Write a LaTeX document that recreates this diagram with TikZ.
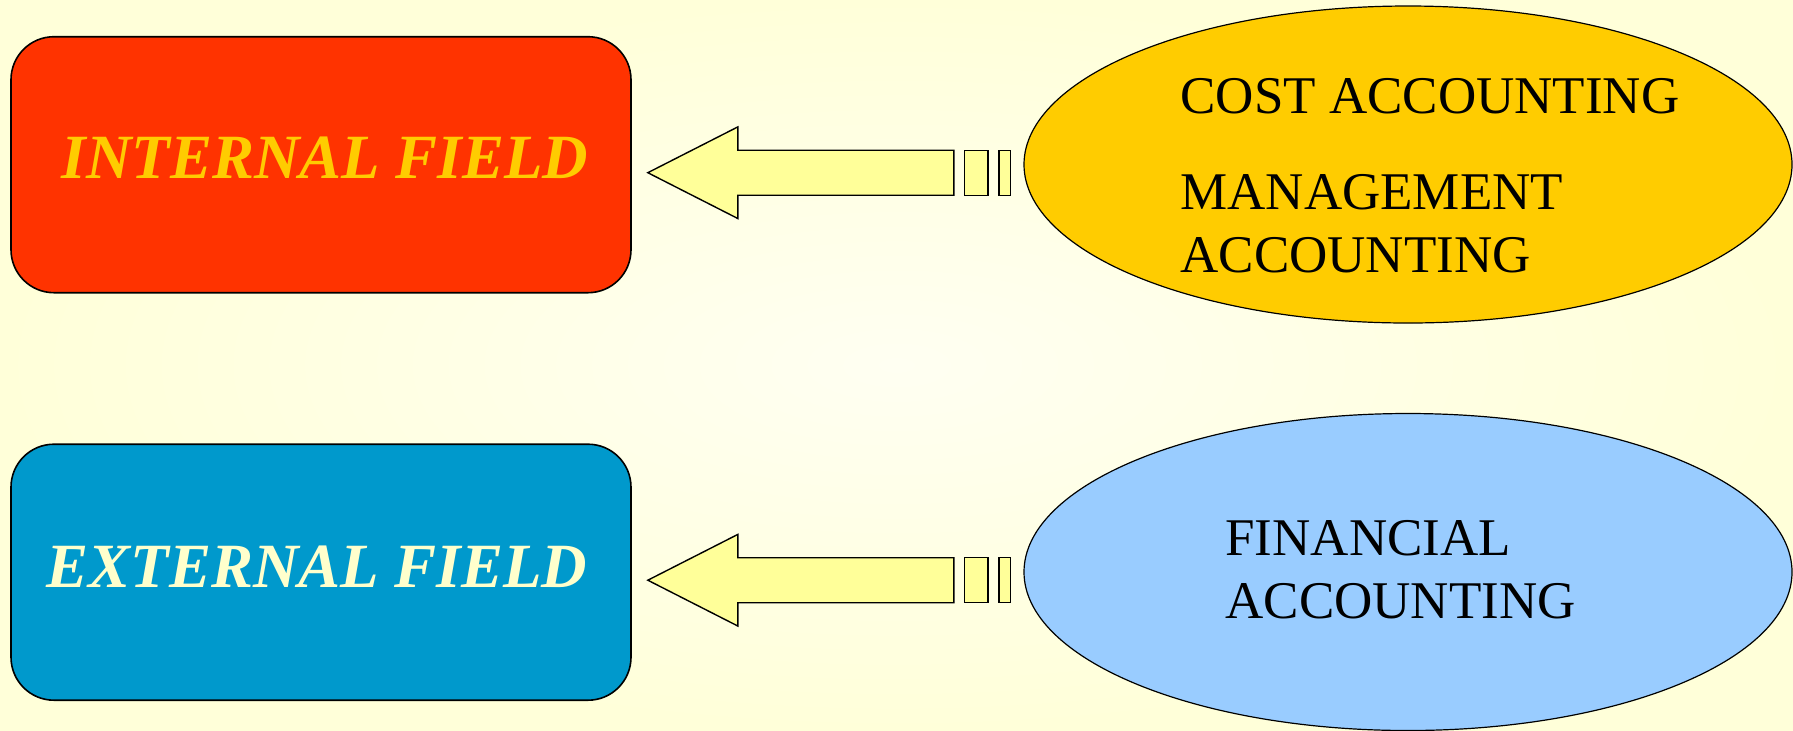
\documentclass[tikz,border=0pt]{standalone}
\usepackage{fontspec}
\setmainfont{Liberation Serif}
\usetikzlibrary{shapes.geometric,calc}
\definecolor{bgin}{HTML}{FFFFF2}
\definecolor{bgout}{HTML}{FFFFD9}
\definecolor{fieldred}{HTML}{FF3300}
\definecolor{fieldblue}{HTML}{0099CC}
\definecolor{gold}{HTML}{FFCC00}
\definecolor{cream}{HTML}{FFFFCC}
\definecolor{skyblue}{HTML}{99CCFF}
\definecolor{arrowfill}{HTML}{FFFF99}

\begin{document}
\begin{tikzpicture}[x=0.5pt,y=-0.5pt,
  fieldbox/.style={draw=black, line width=0.8pt, rounded corners=21.5pt,
    minimum width=310pt, minimum height=128pt, inner sep=0pt},
  fieldlabel/.style={font=\fontsize{31.5}{36}\selectfont\bfseries\itshape,
    anchor=base, inner sep=0pt},
  areaellipse/.style={draw=black, line width=0.6pt, ellipse,
    minimum width=384pt, minimum height=158.5pt, inner sep=0pt},
  arealine/.style={font=\fontsize{26.5}{31}\selectfont, anchor=base west,
    inner sep=0pt},
  % block arrow pointing left, tip at the pic origin, with two stripes at its tail
  stripedarrow/.pic={
    \path[draw=black, line width=0.7pt, fill=arrowfill, line join=miter]
      (0,0) -- (90,-45.8) -- (90,-22.5) -- (306,-22.5) -- (306,22.5)
      -- (90,22.5) -- (90,45.8) -- cycle;
    \path[draw=black, line width=0.7pt, fill=arrowfill]
      (316.5,-22.5) rectangle (340,22.5);
    \path[draw=black, line width=0.7pt, fill=arrowfill]
      (351,-22.5) rectangle (362.5,22.5);
  }]

% slide background
\shade[inner color=bgin, outer color=bgout] (0,0) rectangle (1793,730);
\useasboundingbox (0,0) rectangle (1793,730);

% fields
\node[fieldbox, fill=fieldred]  (internal) at (321,164.7) {};
\node[fieldbox, fill=fieldblue] (external) at (321,572.2) {};
\node[fieldlabel, text=gold]  (internallbl) at (325,178) {INTERNAL FIELD};
\node[fieldlabel, text=cream] (externallbl) at (317,587) {EXTERNAL FIELD};

% branches of accounting
\node[areaellipse, fill=gold]    (costmgmt)  at (1408,164.5) {};
\node[areaellipse, fill=skyblue] (financial) at (1408,572) {};

\node[arealine] (cost)   at (1180,113) {COST ACCOUNTING};
\node[arealine] (mgmt1)  at (1180,209) {MANAGEMENT};
\node[arealine] (mgmt2)  at (1180,272) {ACCOUNTING};
\node[arealine] (fin1)   at (1225,555) {FINANCIAL};
\node[arealine] (fin2)   at (1225,618) {ACCOUNTING};

% arrows from each branch to its field
\pic at ($(internal.east)+(16,8)$) {stripedarrow};
\pic at ($(external.east)+(16,8)$) {stripedarrow};
\end{tikzpicture}
\end{document}
